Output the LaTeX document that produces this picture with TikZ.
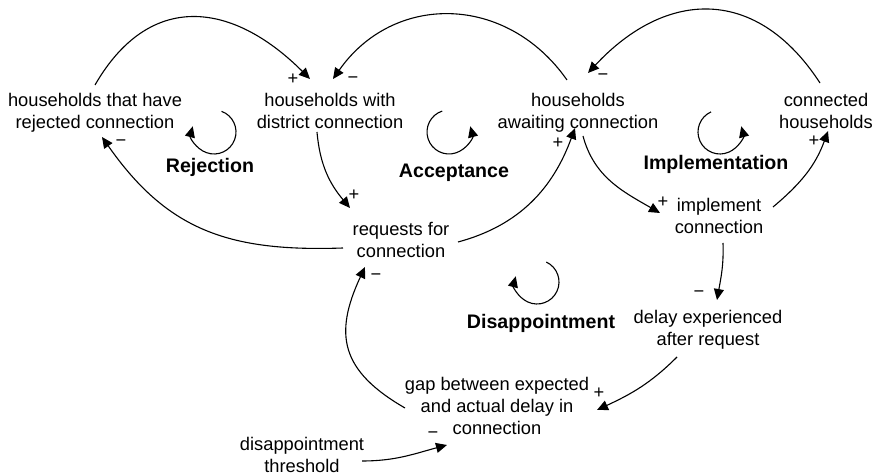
\documentclass[tikz,border=0pt]{standalone}
\usepackage{fontspec}
\setmainfont{Liberation Sans}
\usetikzlibrary{arrows.meta}

\tikzset{
    var/.style={align=center, inner sep=0pt, anchor=north,
        font=\fontsize{18.3}{22}\selectfont},
    loopname/.style={anchor=base, inner sep=0pt,
        font=\fontsize{19.6}{22}\selectfont\bfseries},
    link/.style={line width=1.1pt, -{Triangle[length=11pt,width=10pt]}},
    sign/.style={inner sep=0pt, font=\fontsize{18.3}{22}\selectfont},
}

\begin{document}
\begin{tikzpicture}[x=1pt, y=1pt]
    \useasboundingbox (0,0) rectangle (878,476);
    % variables
    \node[var] (rej) at (95,383) {households that have\\rejected connection};
    \node[var] (dist) at (330,383) {households with\\district connection};
    \node[var] (await) at (578,383) {households\\awaiting connection};
    \node[var] (conn) at (826,383) {connected\\households};
    \node[var] (req) at (401,254) {requests for\\connection};
    \node[var] (impl) at (719,278) {implement\\connection};
    \node[var] (delay) at (708,166) {delay experienced\\after request};
    \node[var] (gap) at (497,99) {gap between expected\\and actual delay in\\connection};
    \node[var] (thr) at (302,39) {disappointment\\threshold};

    % loop names
    \node[loopname] (rejection) at (210,303) {Rejection};
    \node[loopname] (acceptance) at (454,298) {Acceptance};
    \node[loopname] (implementation) at (716,306) {Implementation};
    \node[loopname] (disappointment) at (541,147) {Disappointment};

    % loop arrows
    \foreach \cx/\cy/\sa/\ea in {214/344/70/-195, 449/344/108/375,
                                 720/344/114/375, 537/194/65/-195}
        \draw[link] (\cx,\cy) ++(\sa:22) arc[start angle=\sa, end angle=\ea, radius=22];

    % causal links
    \draw[link] ([yshift=8pt]rej.north) to[out=60, in=135, looseness=1.3]
        ([xshift=-20pt, yshift=14pt]dist.north) node[sign, xshift=-17pt] {+};
    \draw[link] ([xshift=-11pt, yshift=13pt]await.north) to[out=125, in=55, looseness=1.15]
        ([xshift=3pt, yshift=14pt]dist.north) node[sign, xshift=20pt, yshift=-1pt] {−};
    \draw[link] ([xshift=-6pt, yshift=10pt]conn.north) to[out=123, in=47, looseness=1.27]
        ([xshift=10pt, yshift=20pt]await.north) node[sign, xshift=15pt, yshift=-4pt] {−};
    \draw[link] ([xshift=-13pt, yshift=-39pt]dist.north) to[out=-85, in=130]
        ([xshift=-51pt, yshift=14pt]req.north) node[sign, xshift=4pt, yshift=13pt] {+};
    \draw[link] ([xshift=-58pt, yshift=-26pt]req.north) to[out=182, in=-55, looseness=1.1]
        ([xshift=7pt, yshift=-44pt]rej.north) node[sign, xshift=19pt, yshift=-6pt] {−};
    \draw[link] ([xshift=57pt, yshift=-20pt]req.north) to[out=15, in=-110]
        ([xshift=-3pt, yshift=-35pt]await.north) node[sign, xshift=-17pt, yshift=-15pt] {+};
    \draw[link] ([xshift=5pt, yshift=-43pt]await.north) to[out=-75, in=150]
        ([xshift=-59pt, yshift=-15pt]impl.north) node[sign, xshift=3pt, yshift=11pt] {+};
    \draw[link] ([xshift=54pt, yshift=-9pt]impl.north) to[out=40, in=-110]
        ([xshift=2pt, yshift=-38pt]conn.north) node[sign, xshift=-14pt, yshift=-10pt] {+};
    \draw[link] ([xshift=4pt, yshift=-45pt]impl.north) to[out=-88, in=80]
        ([xshift=9pt, yshift=10pt]delay.north) node[sign, xshift=-18pt, yshift=6pt] {−};
    \draw[link] ([xshift=-31pt, yshift=-47pt]delay.north) to[out=-135, in=25]
        ([xshift=100pt, yshift=-33pt]gap.north) node[sign, xshift=2pt, yshift=17pt] {+};
    \draw[link] ([xshift=-92pt, yshift=-31pt]gap.north) to[out=150, in=-115, looseness=1.3]
        ([xshift=-36pt, yshift=-45pt]req.north) node[sign, xshift=11pt, yshift=-10pt] {−};
    \draw[link] ([xshift=60pt, yshift=-24pt]thr.north) to[out=0, in=195]
        ([xshift=-50pt, yshift=-68pt]gap.north) node[sign, xshift=-14pt, yshift=10pt] {−};
\end{tikzpicture}
\end{document}
